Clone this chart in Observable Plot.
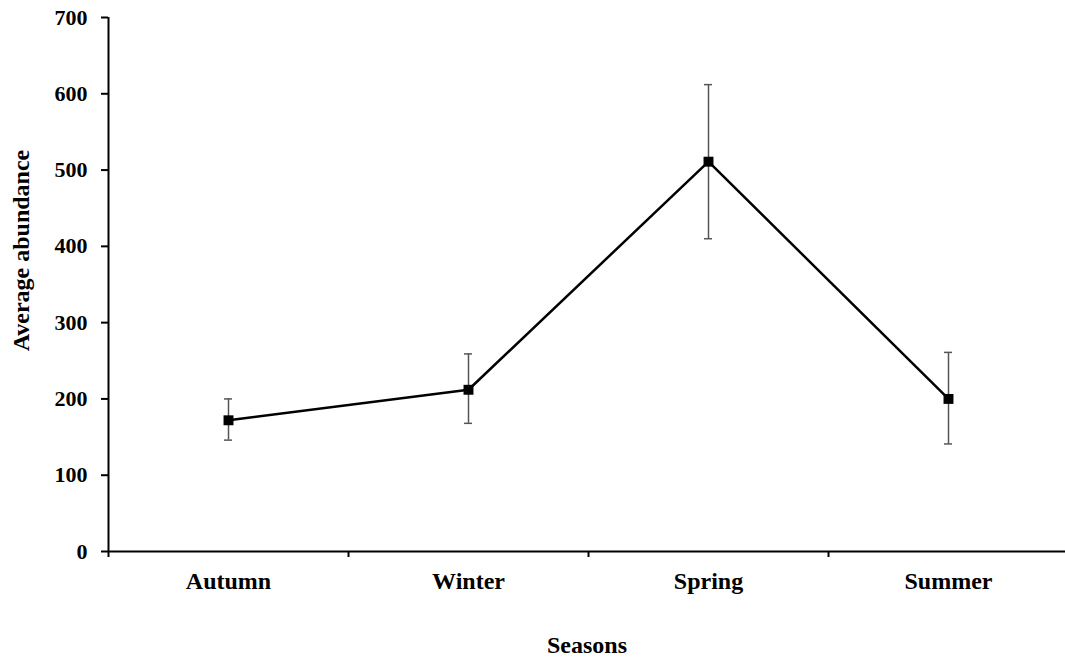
<!DOCTYPE html>
<html>
<head>
<meta charset="utf-8">
<script src="https://cdn.jsdelivr.net/npm/d3@7"></script>
<script src="https://cdn.jsdelivr.net/npm/@observablehq/plot@0.6"></script>
<style>
  html, body { margin: 0; padding: 0; background: white; }
</style>
</head>
<body>
<div id="chart"></div>
<script>
const seasons = ["Autumn", "Winter", "Spring", "Summer"];
const means = [172, 212, 511, 200];
const lows = [146, 168, 410, 141];
const highs = [200, 259, 612, 261];
const yTicks = [0, 100, 200, 300, 400, 500, 600, 700];
const yLabel = "Average abundance";
const xLabel = "Seasons";

const data = seasons.map((s, i) => ({season: s, x: i + 0.5, mean: means[i], lo: lows[i], hi: highs[i]}));
const boundaries = seasons.map((_, i) => i);
const centers = seasons.map((_, i) => i + 0.5);

const chart = Plot.plot({
  width: 1065,
  height: 664,
  marginLeft: 108,
  marginRight: 0,
  marginTop: 17,
  marginBottom: 113,
  style: {fontFamily: "'Liberation Serif', 'Times New Roman', serif", fontWeight: "bold", fontSize: "22px", color: "black", background: "white"},
  x: {domain: [0, 4], range: [108, 1068]},
  y: {domain: [0, 700]},
  marks: [
    Plot.axisY({ticks: yTicks, tickSize: 7, tickPadding: 14, strokeWidth: 2, label: null, fontSize: 22}),
    Plot.axisX({ticks: boundaries, tickSize: 6, tickFormat: () => "", strokeWidth: 2, label: null}),
    Plot.axisX({ticks: centers, tickSize: 0, tickPadding: 20, tickFormat: d => seasons[Math.floor(d)], label: null, fontSize: 24}),
    Plot.ruleX([0], {stroke: "black", strokeWidth: 2}),
    Plot.ruleY([0], {stroke: "black", strokeWidth: 2}),
    Plot.ruleX(data, {x: "x", y1: "lo", y2: "hi", stroke: "#555", strokeWidth: 1.5}),
    Plot.ruleY(data, {y: "hi", x1: "x", x2: "x", insetLeft: -4, insetRight: -4, stroke: "#555", strokeWidth: 1.5}),
    Plot.ruleY(data, {y: "lo", x1: "x", x2: "x", insetLeft: -4, insetRight: -4, stroke: "#555", strokeWidth: 1.5}),
    Plot.line(data, {x: "x", y: "mean", stroke: "black", strokeWidth: 2.5}),
    Plot.dot(data, {x: "x", y: "mean", symbol: "square", r: 5.6, fill: "black", stroke: "none"}),
    Plot.text([xLabel], {frameAnchor: "bottom", dy: 94, lineAnchor: "middle", fontSize: 24}),
    Plot.text([yLabel], {frameAnchor: "left", rotate: -90, dx: -87, dy: -34, textAnchor: "middle", lineAnchor: "middle", fontSize: 24})
  ]
});
document.getElementById("chart").appendChild(chart);
</script>
</body>
</html>
